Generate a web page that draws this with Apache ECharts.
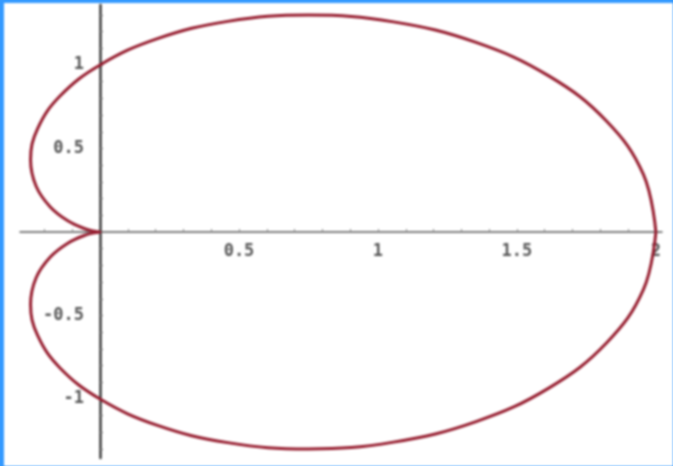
<!DOCTYPE html>
<html>
<head>
<meta charset="utf-8">
<script src="https://cdn.jsdelivr.net/npm/echarts@6/dist/echarts.min.js"></script>
<style>
html,body{margin:0;padding:0;background:#3399ff;width:673px;height:466px;overflow:hidden;}
#c{position:absolute;left:4px;top:3px;width:669px;height:463px;background:#fff;filter:blur(0.8px);}
</style>
</head>
<body>
<div id="c"></div>
<script>
// Curve points (x, y)
const curveX = [2, 1.955, 1.823, 1.616, 1.353, 1.056, 0.75, 0.459, 0.204, 0, -0.144, -0.225, -0.25, -0.23, -0.179, -0.116, -0.057, -0.015, 0,
  -0.015, -0.057, -0.116, -0.179, -0.23, -0.25, -0.225, -0.144, 0, 0.204, 0.459, 0.75, 1.056, 1.353, 1.616, 1.823, 1.955, 2];
const curveY = [0, 0.345, 0.663, 0.933, 1.135, 1.258, 1.299, 1.261, 1.156, 1, 0.814, 0.618, 0.433, 0.274, 0.15, 0.067, 0.021, 0.003, 0,
  -0.003, -0.021, -0.067, -0.15, -0.274, -0.433, -0.618, -0.814, -1, -1.156, -1.261, -1.299, -1.258, -1.135, -0.933, -0.663, -0.345, 0];
const xTickLabels = [0.5, 1, 1.5, 2];
const yTickLabels = [-1, -0.5, 0.5, 1];
const xMinorTicks = [-0.2, -0.1, 0.1, 0.2, 0.3, 0.4, 0.5, 0.6, 0.7, 0.8, 0.9, 1, 1.1, 1.2, 1.3, 1.4, 1.5, 1.6, 1.7, 1.8, 1.9, 2];
const yMinorTicks = [-1.3, -1.2, -1.1, -1, -0.9, -0.8, -0.7, -0.6, -0.5, -0.4, -0.3, -0.2, -0.1, 0.1, 0.2, 0.3, 0.4, 0.5, 0.6, 0.7, 0.8, 0.9, 1, 1.1, 1.2, 1.3];

const X_MIN = -0.288, X_MAX = 2.022, Y_MIN = -1.353, Y_MAX = 1.359;
const W = 669, H = 463, GL = 16, GR = 11, GT = 2, GB = 8;
const plotW = W - GL - GR, plotH = H - GT - GB;
// distance of the zero lines from the grid edges, from the axis scales
const xAxisOffset = -plotH * (0 - Y_MIN) / (Y_MAX - Y_MIN);
const yAxisOffset = -plotW * (0 - X_MIN) / (X_MAX - X_MIN);

const data = curveX.map((x, i) => [x, curveY[i]]);
const labelStyle = {color: '#555', fontSize: 17, fontWeight: 'bold', fontFamily: 'DejaVu Sans Mono'};
const chart = echarts.init(document.getElementById('c'));
chart.setOption({
  animation: false,
  grid: {left: GL, right: GR, top: GT, bottom: GB, outerBoundsMode: 'none', containLabel: false},
  xAxis: {
    type: 'value', min: X_MIN, max: X_MAX, position: 'bottom', offset: xAxisOffset,
    axisLine: {onZero: false, lineStyle: {color: '#555', width: 1.5}},
    axisTick: {show: true, customValues: xMinorTicks, length: 3, inside: true, lineStyle: {color: '#888'}},
    axisLabel: Object.assign({customValues: xTickLabels, margin: 11}, labelStyle),
    splitLine: {show: false}
  },
  yAxis: {
    type: 'value', min: Y_MIN, max: Y_MAX, position: 'left', offset: yAxisOffset,
    axisLine: {onZero: false, lineStyle: {color: '#3a3a3a', width: 2.5}},
    axisTick: {show: true, customValues: yMinorTicks, length: 3, inside: true, lineStyle: {color: '#777'}},
    axisLabel: Object.assign({customValues: yTickLabels, margin: 16}, labelStyle),
    splitLine: {show: false}
  },
  series: [{
    type: 'line', data: data, smooth: 0.4, symbol: 'none',
    lineStyle: {color: '#961c2e', width: 3}
  }]
});
</script>
</body>
</html>
